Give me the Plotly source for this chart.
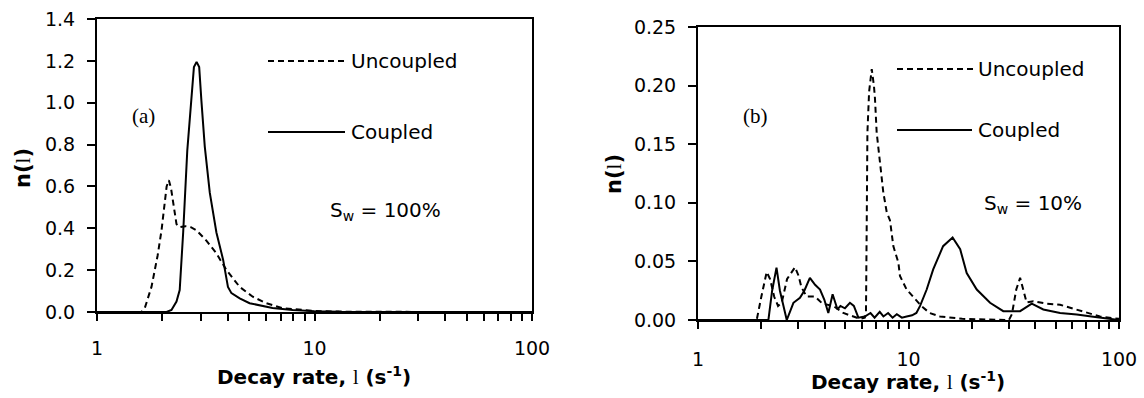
import plotly.graph_objects as go

# ---------------- data ----------------
# Panel (a): S_w = 100%
lam_a_unc = [1.0, 1.3, 1.6, 1.66, 1.78, 1.90, 1.98, 2.09, 2.14, 2.19, 2.25, 2.32, 2.40,
             2.55, 2.70, 2.87, 3.19, 3.54, 3.94, 4.53, 5.20, 6.0, 7.13, 8.53, 10, 12, 15, 20, 40, 100]
n_a_unc = [0, 0, 0, 0.02, 0.12, 0.27, 0.39, 0.60, 0.63, 0.59, 0.50, 0.42, 0.405,
           0.41, 0.405, 0.39, 0.34, 0.28, 0.20, 0.12, 0.073, 0.042, 0.018, 0.01, 0.005, 0.002, 0.001, 0, 0, 0]

lam_a_cpl = [1.0, 1.5, 2.0, 2.09, 2.2, 2.32, 2.40, 2.49, 2.60, 2.72, 2.79, 2.87, 2.95, 3.02,
             3.13, 3.30, 3.54, 3.80, 4.0, 4.15, 4.53, 5.03, 5.59, 6.41, 7.93, 10, 13, 20, 50, 100]
n_a_cpl = [0, 0, 0, 0, 0.01, 0.05, 0.105, 0.38, 0.77, 1.01, 1.17, 1.195, 1.17, 1.01,
           0.79, 0.57, 0.38, 0.25, 0.12, 0.09, 0.065, 0.042, 0.033, 0.019, 0.01, 0.004, 0.001, 0, 0, 0]

# Panel (b): S_w = 10%
lam_b_unc = [1.0, 1.5, 1.90, 2.0, 2.12, 2.2, 2.30, 2.40, 2.5, 2.65, 2.89, 3.0, 3.1, 3.28, 3.6,
             3.9, 4.39, 4.9, 5.47, 5.88, 6.2, 6.28, 6.33, 6.38, 6.5, 6.69, 6.85, 6.93, 7.06,
             7.32, 7.59, 7.88, 8.17, 8.47, 8.95, 9.11, 9.8, 10.5, 11.5, 12.6, 14.1, 18, 25,
             30, 31, 32.5, 33.9, 35, 36.4, 39.2, 45.3, 52.5, 60.7, 70.2, 81.2, 94, 100]
n_b_unc = [0, 0, 0, 0.02, 0.041, 0.035, 0.02, 0.012, 0.015, 0.035, 0.045, 0.038, 0.028, 0.020, 0.020,
           0.014, 0.012, 0.006, 0.003, 0.001, 0.002, 0.005, 0.08, 0.16, 0.195, 0.214, 0.20, 0.189, 0.160,
           0.132, 0.109, 0.092, 0.085, 0.063, 0.049, 0.0375, 0.026, 0.020, 0.012, 0.006, 0.003, 0.001, 0,
           0, 0.005, 0.026, 0.036, 0.026, 0.015, 0.016, 0.014, 0.013, 0.0096, 0.006, 0.003, 0.0015, 0.001]

lam_b_cpl = [1.0, 2.16, 2.25, 2.36, 2.45, 2.64, 2.84, 3.05, 3.2, 3.40, 3.6, 3.80, 3.98, 4.16,
             4.36, 4.6, 4.75, 4.99, 5.27, 5.5, 5.78, 6.2, 6.6, 6.9, 7.3, 7.6, 8.0, 8.4, 8.8, 9.3,
             9.8, 10.4, 10.9, 11.35, 12.2, 13.1, 14.6, 16.2, 17.6, 18.9, 21.1, 24.4, 28.2, 33.9,
             38.5, 43.7, 52.5, 63, 75.5, 93.5, 100]
n_b_cpl = [0, 0, 0.025, 0.0447, 0.025, 0, 0.0147, 0.019, 0.025, 0.036, 0.030, 0.026, 0.0175, 0.006,
           0.022, 0.009, 0.012, 0.010, 0.0147, 0.012, 0.002, 0.003, 0.006, 0.002, 0.007, 0.003, 0.006, 0.002, 0.005, 0.002,
           0.003, 0.004, 0.006, 0.012, 0.026, 0.0432, 0.063, 0.0704, 0.0604, 0.040, 0.026, 0.0147, 0.0075, 0.0075,
           0.014, 0.009, 0.006, 0.0047, 0.0027, 0.0004, 0]

x_tick_vals = [1, 10, 100]
x_tick_labels = ["1", "10", "100"]
x_minor_vals = [2, 3, 4, 5, 6, 7, 8, 9, 20, 30, 40, 50, 60, 70, 80, 90]
series_names = ["Uncoupled", "Coupled"]
panel_labels = ["(a)", "(b)"]
sw_labels = ["S<sub>w</sub> = 100%", "S<sub>w</sub> = 10%"]

# ---------------- figure ----------------
W, H = 1144, 398
def px(x):
    return x / W
def py(y):
    return 1 - y / H

SANS = "DejaVu Sans"
SERIF = "Liberation Serif"

dash = "6px,4px"
line_col = "black"

fig = go.Figure()
fig.add_trace(go.Scatter(x=lam_a_unc, y=n_a_unc, mode="lines", name=series_names[0],
                         line=dict(color=line_col, width=2, dash=dash), xaxis="x", yaxis="y"))
fig.add_trace(go.Scatter(x=lam_a_cpl, y=n_a_cpl, mode="lines", name=series_names[1],
                         line=dict(color=line_col, width=2), xaxis="x", yaxis="y"))
fig.add_trace(go.Scatter(x=lam_b_unc, y=n_b_unc, mode="lines", name=series_names[0],
                         line=dict(color=line_col, width=2, dash=dash), xaxis="x2", yaxis="y2"))
fig.add_trace(go.Scatter(x=lam_b_cpl, y=n_b_cpl, mode="lines", name=series_names[1],
                         line=dict(color=line_col, width=2), xaxis="x2", yaxis="y2"))

tickfont = dict(family=SANS, size=19, color="black")
common_x = dict(type="log", range=[0, 2], tickmode="array", tickvals=x_tick_vals, ticktext=x_tick_labels,
                tickangle=0, ticks="outside", ticklen=7, tickwidth=1.5, tickcolor="black",
                minor=dict(tickmode="array", tickvals=x_minor_vals, ticks="outside", ticklen=7,
                           tickwidth=1.5, tickcolor="black", showgrid=False),
                showline=True, linecolor="black", linewidth=2, mirror=True, automargin=False,
                showgrid=False, zeroline=False, tickfont=tickfont)
common_y = dict(ticks="outside", ticklen=8, tickwidth=1.5, tickcolor="black",
                showline=True, linecolor="black", linewidth=2, mirror=True, automargin=False,
                showgrid=False, zeroline=False, tickfont=tickfont, ticklabelstandoff=8)

fig.update_layout(
    template="none",
    width=W, height=H, autosize=False, margin=dict(l=0, r=0, t=0, b=0, pad=0),
    paper_bgcolor="white", plot_bgcolor="white", showlegend=False,
    xaxis=dict(domain=[px(97), px(532)], anchor="y", ticklabelstandoff=11, **common_x),
    yaxis=dict(domain=[py(312), py(19)], anchor="x", range=[0, 1.4], dtick=0.2,
               tickformat=".1f", **common_y),
    xaxis2=dict(domain=[px(698), px(1119)], anchor="y2", ticklabelstandoff=14, **common_x),
    yaxis2=dict(domain=[py(320), py(27)], anchor="x2", range=[0, 0.25], dtick=0.05,
                tickformat=".2f", **common_y),
)

lam_txt = "<span style='font-family:%s;font-weight:normal'>l</span>" % SERIF
xtitle = "<b>Decay rate, </b>" + lam_txt + "<b> (s<sup>-1</sup>)</b>"
ytitle = "<b>n(</b>" + lam_txt + "<b>)</b>"

ann = []
def add_text(x, y, text, size, family=SANS, xanchor="left", angle=0):
    ann.append(dict(x=px(x), y=py(y), xref="paper", yref="paper", text=text, showarrow=False,
                    xanchor=xanchor, yanchor="middle", textangle=angle,
                    font=dict(family=family, size=size, color="black")))

# axis titles
add_text(314, 376, xtitle, 20, xanchor="center")
add_text(908, 381, xtitle, 20, xanchor="center")
add_text(23, 168, ytitle, 21, xanchor="center", angle=-90)
add_text(614, 174, ytitle, 21, xanchor="center", angle=-90)

# panel labels
add_text(143, 116, panel_labels[0], 21, family=SERIF, xanchor="center")
add_text(755, 116, panel_labels[1], 21, family=SERIF, xanchor="center")

# legends
add_text(349, 61, series_names[0], 20)
add_text(349, 132, series_names[1], 20)
add_text(976, 69, series_names[0], 20)
add_text(976, 130, series_names[1], 20)

# S_w
add_text(328, 211, sw_labels[0], 20)
add_text(982, 204, sw_labels[1], 20)

shapes = [
    dict(type="line", xref="paper", yref="paper", x0=px(268), x1=px(346), y0=py(61), y1=py(61),
         line=dict(color="black", width=2, dash=dash)),
    dict(type="line", xref="paper", yref="paper", x0=px(268), x1=px(345), y0=py(132), y1=py(132),
         line=dict(color="black", width=2)),
    dict(type="line", xref="paper", yref="paper", x0=px(897), x1=px(973), y0=py(69), y1=py(69),
         line=dict(color="black", width=2, dash=dash)),
    dict(type="line", xref="paper", yref="paper", x0=px(897), x1=px(972), y0=py(130), y1=py(130),
         line=dict(color="black", width=2)),
]
fig.update_layout(annotations=ann, shapes=shapes)

fig.write_html("out.html")
